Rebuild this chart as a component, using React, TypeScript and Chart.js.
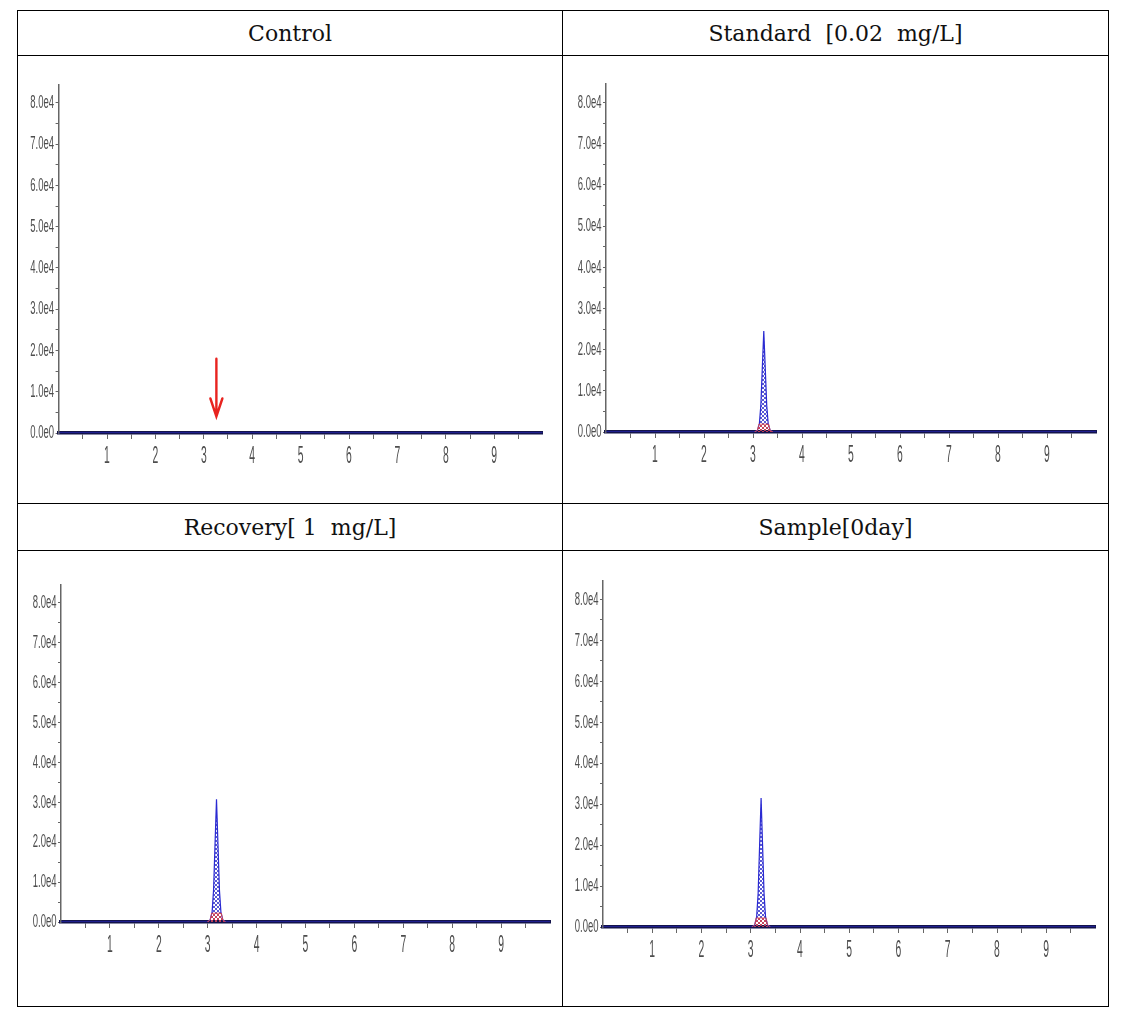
import React, { useEffect, useRef } from "react";
import { Chart, registerables } from "chart.js";

Chart.register(...registerables);

// ---------------- data ----------------
const panelTitles = ["Control", "Standard  [0.02  mg/L]", "Recovery[ 1  mg/L]", "Sample[0day]"];

const xTickValues = [0.5, 1, 1.5, 2, 2.5, 3, 3.5, 4, 4.5, 5, 5.5, 6, 6.5, 7, 7.5, 8, 8.5, 9, 9.5];
const xTickLabels = ["", "1", "", "2", "", "3", "", "4", "", "5", "", "6", "", "7", "", "8", "", "9", ""];
const yTickValues = [0, 5000, 10000, 15000, 20000, 25000, 30000, 35000, 40000, 45000, 50000, 55000, 60000, 65000, 70000, 75000, 80000];
const yTickLabels = ["0.0e0", "", "1.0e4", "", "2.0e4", "", "3.0e4", "", "4.0e4", "", "5.0e4", "", "6.0e4", "", "7.0e4", "", "8.0e4"];

const controlTime = [0, 10];
const controlSignal = [0, 0];
const controlBaseTime: number[] = [];
const controlBaseSignal: number[] = [];

const standardTime = [0, 3.03, 3.09, 3.13, 3.16, 3.19, 3.22, 3.25, 3.28, 3.31, 3.35, 3.41, 10];
const standardSignal = [0, 0, 400, 2000, 6500, 15500, 24500, 15500, 6500, 2000, 400, 0, 0];
const standardBaseTime = [3.03, 3.09, 3.12, 3.32, 3.35, 3.41];
const standardBaseSignal = [0, 400, 1900, 1900, 400, 0];

const recoveryTime = [0, 2.99, 3.05, 3.09, 3.12, 3.15, 3.18, 3.21, 3.24, 3.27, 3.31, 3.37, 10];
const recoverySignal = [0, 0, 500, 2500, 8000, 19500, 30800, 19500, 8000, 2500, 500, 0, 0];
const recoveryBaseTime = [2.99, 3.05, 3.08, 3.28, 3.31, 3.37];
const recoveryBaseSignal = [0, 500, 2200, 2200, 500, 0];

const sampleTime = [0, 3.02, 3.08, 3.12, 3.15, 3.18, 3.21, 3.24, 3.27, 3.3, 3.34, 3.4, 10];
const sampleSignal = [0, 0, 500, 2500, 8200, 20000, 31500, 20000, 8200, 2500, 500, 0, 0];
const sampleBaseTime = [3.02, 3.08, 3.11, 3.31, 3.34, 3.4];
const sampleBaseSignal = [0, 500, 2200, 2200, 500, 0];

const arrowTime = 3.26;
const arrowFrom = 18000;
const arrowTo = 4000;

// ---------------- layout (page coordinates) ----------------
type Geo = { l: number; t: number; w: number; h: number; x0: number; x10: number; y0: number; yTop: number };
const geos: Geo[] = [
  { l: 18, t: 56, w: 543, h: 446, x0: 58.6, x10: 542.6, y0: 433, yTop: 84.4 },
  { l: 563, t: 56, w: 544, h: 446, x0: 606, x10: 1096, y0: 432, yTop: 84 },
  { l: 18, t: 551, w: 543, h: 454, x0: 61, x10: 550, y0: 922, yTop: 585 },
  { l: 563, t: 551, w: 544, h: 454, x0: 603, x10: 1095.5, y0: 927, yTop: 581 },
];

const traces = [
  { time: controlTime, signal: controlSignal, baseTime: controlBaseTime, baseSignal: controlBaseSignal, arrow: true },
  { time: standardTime, signal: standardSignal, baseTime: standardBaseTime, baseSignal: standardBaseSignal, arrow: false },
  { time: recoveryTime, signal: recoverySignal, baseTime: recoveryBaseTime, baseSignal: recoveryBaseSignal, arrow: false },
  { time: sampleTime, signal: sampleSignal, baseTime: sampleBaseTime, baseSignal: sampleBaseSignal, arrow: false },
];

const Y_MAX = 84500;

function makeHatch(color: string) {
  const c = document.createElement("canvas");
  c.width = 4;
  c.height = 4;
  const g = c.getContext("2d")!;
  g.strokeStyle = color;
  g.lineWidth = 0.8;
  g.beginPath();
  g.moveTo(0, 0);
  g.lineTo(4, 4);
  g.moveTo(4, 0);
  g.lineTo(0, 4);
  g.stroke();
  return g.createPattern(c, "repeat");
}

const arrowPlugin = {
  id: "arrowMark",
  afterDatasetsDraw(chart: any, _args: any, opts: any) {
    if (!opts || !opts.show) return;
    const { ctx, scales } = chart;
    const px = scales.x.getPixelForValue(opts.time);
    const p1 = scales.y.getPixelForValue(opts.from);
    const p2 = scales.y.getPixelForValue(opts.to);
    ctx.save();
    ctx.strokeStyle = "#e8231f";
    ctx.lineWidth = 2.4;
    ctx.lineCap = "round";
    ctx.beginPath();
    ctx.moveTo(px, p1);
    ctx.lineTo(px, p2);
    ctx.moveTo(px - 6, p2 - 18);
    ctx.lineTo(px, p2);
    ctx.lineTo(px + 6, p2 - 18);
    ctx.stroke();
    ctx.restore();
  },
};

// draws the tall, condensed tick labels of the instrument software
const narrowLabelPlugin = {
  id: "narrowLabels",
  afterDraw(chart: any) {
    const { ctx, scales, chartArea } = chart;
    ctx.save();
    ctx.fillStyle = "#4d4d4d";
    ctx.textBaseline = "middle";
    ctx.font = '19px "Liberation Sans", Arial, sans-serif';
    ctx.textAlign = "right";
    yTickValues.forEach((v, i) => {
      const lab = yTickLabels[i];
      if (!lab) return;
      const py = scales.y.getPixelForValue(v);
      ctx.save();
      ctx.translate(chartArea.left - 4.5, py);
      ctx.scale(0.5, 1);
      ctx.fillText(lab, 0, 0);
      ctx.restore();
    });
    ctx.font = '23px "Liberation Sans", Arial, sans-serif';
    ctx.textAlign = "center";
    xTickValues.forEach((v, i) => {
      const lab = xTickLabels[i];
      if (!lab) return;
      const px = scales.x.getPixelForValue(v);
      ctx.save();
      ctx.translate(px, chartArea.bottom + 24);
      ctx.scale(0.45, 1);
      ctx.fillText(lab, 0, 0);
      ctx.restore();
    });
    ctx.restore();
  },
};

function Panel({ index }: { index: number }) {
  const ref = useRef<HTMLCanvasElement>(null);
  const g = geos[index];
  const tr = traces[index];
  useEffect(() => {
    const canvas = ref.current!;
    const padLeft = g.x0 - g.l;
    const padRight = g.l + g.w - g.x10;
    const padTop = g.yTop - g.t;
    const xAxisH = g.t + g.h - g.y0;
    const blueHatch = makeHatch("#2f2fc8");
    const redHatch = makeHatch("#e04040");
    const chart = new Chart(canvas, {
      type: "line",
      data: {
        datasets: [
          {
            data: tr.baseTime.map((t, i) => ({ x: t, y: tr.baseSignal[i] })),
            borderColor: "#e04848",
            borderWidth: 0.8,
            backgroundColor: redHatch as any,
            fill: "origin",
            pointRadius: 0,
            tension: 0,
            order: 1,
          },
          {
            data: tr.time.map((t, i) => ({ x: t, y: tr.signal[i] })),
            borderColor: "#2a2ad2",
            borderWidth: 1.2,
            backgroundColor: blueHatch as any,
            fill: "origin",
            pointRadius: 0,
            tension: 0,
            order: 2,
          },
        ],
      },
      options: {
        responsive: false,
        animation: false,
        events: [],
        layout: { padding: { left: 0, right: padRight, top: padTop, bottom: 0 } },
        plugins: {
          legend: { display: false },
          tooltip: { enabled: false },
          arrowMark: { show: tr.arrow, time: arrowTime, from: arrowFrom, to: arrowTo },
        } as any,
        scales: {
          x: {
            type: "linear",
            min: 0,
            max: 10,
            z: 1,
            afterBuildTicks: (s: any) => {
              s.ticks = xTickValues.map((v) => ({ value: v }));
            },
            afterFit: (s: any) => {
              s.height = xAxisH;
            },
            ticks: { display: false, autoSkip: false, maxRotation: 0 },
            grid: { drawOnChartArea: false, drawTicks: true, tickLength: 6, color: "#666", lineWidth: 1 },
            border: { color: "#14144c", width: 3.5 },
          },
          y: {
            type: "linear",
            min: 0,
            max: Y_MAX,
            afterBuildTicks: (s: any) => {
              s.ticks = yTickValues.map((v) => ({ value: v }));
            },
            afterFit: (s: any) => {
              s.width = padLeft;
            },
            ticks: { display: false, autoSkip: false },
            grid: { drawOnChartArea: false, drawTicks: true, tickLength: 3, color: "#666", lineWidth: 1 },
            border: { color: "#666", width: 1.5 },
          },
        },
      },
      plugins: [arrowPlugin, narrowLabelPlugin],
    });
    return () => chart.destroy();
  }, []);
  return (
    <canvas
      ref={ref}
      width={g.w}
      height={g.h}
      style={{ position: "absolute", left: g.l, top: g.t, width: g.w, height: g.h }}
    />
  );
}

const lineStyle = (l: number, t: number, w: number, h: number): React.CSSProperties => ({
  position: "absolute",
  left: l,
  top: t,
  width: w,
  height: h,
  background: "#000",
});

const headerStyle = (l: number, t: number, w: number, h: number): React.CSSProperties => ({
  position: "absolute",
  left: l,
  top: t,
  width: w,
  height: h,
  display: "flex",
  alignItems: "center",
  justifyContent: "center",
  fontFamily: '"DejaVu Serif", "Liberation Serif", serif',
  fontSize: 22,
  color: "#111",
  whiteSpace: "pre",
});

export default function App() {
  return (
    <div style={{ position: "absolute", left: 0, top: 0, width: 1128, height: 1021, background: "#fff" }}>
      {/* table lines */}
      <div style={lineStyle(17, 10, 1092, 1)} />
      <div style={lineStyle(17, 1006, 1092, 1)} />
      <div style={lineStyle(17, 10, 1, 997)} />
      <div style={lineStyle(1108, 10, 1, 997)} />
      <div style={lineStyle(562, 10, 1, 997)} />
      <div style={lineStyle(17, 55, 1092, 1)} />
      <div style={lineStyle(17, 503, 1092, 1)} />
      <div style={lineStyle(17, 550, 1092, 1)} />
      {/* headers */}
      <div style={headerStyle(18, 11, 544, 44)}>{panelTitles[0]}</div>
      <div style={headerStyle(563, 11, 545, 44)}>{panelTitles[1]}</div>
      <div style={headerStyle(18, 504, 544, 46)}>{panelTitles[2]}</div>
      <div style={headerStyle(563, 504, 545, 46)}>{panelTitles[3]}</div>
      {[0, 1, 2, 3].map((i) => (
        <Panel key={i} index={i} />
      ))}
    </div>
  );
}
